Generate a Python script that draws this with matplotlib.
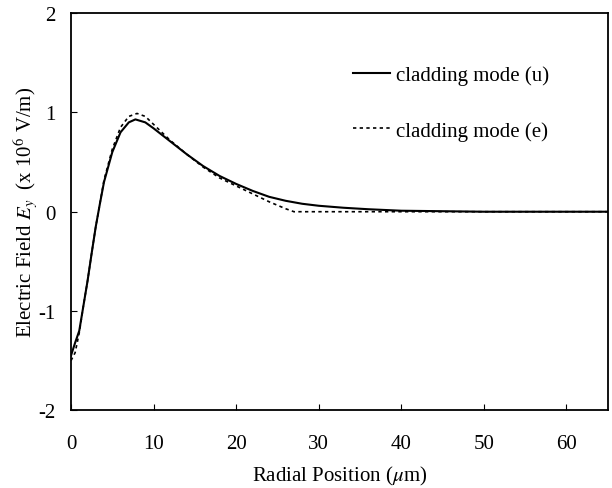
import matplotlib
matplotlib.use('Agg')
import matplotlib.pyplot as plt

# Values
r_u = [0, 0.5, 1, 1.5, 2, 2.5, 3, 3.5, 4, 5, 6, 7, 7.8, 9, 10, 12, 14, 16, 18, 20,
       22, 24, 26, 28, 30, 33, 36, 40, 45, 50, 55, 65]
e_u = [-1.45, -1.32, -1.2, -0.95, -0.7, -0.42, -0.15, 0.08, 0.3, 0.6, 0.8, 0.9, 0.93,
       0.9, 0.84, 0.71, 0.58, 0.46, 0.36, 0.28, 0.21, 0.15, 0.11, 0.08, 0.06, 0.04,
       0.025, 0.01, 0.005, 0.0, 0.0, 0.0]

r_e = [0, 0.5, 1, 1.5, 2, 2.5, 3, 3.5, 4, 5, 6, 7, 8, 9, 10, 12, 14, 16, 18, 20,
       22, 24, 26, 27, 30, 40, 50, 65]
e_e = [-1.5, -1.42, -1.22, -0.95, -0.7, -0.42, -0.15, 0.08, 0.32, 0.63, 0.85, 0.96, 0.99,
       0.96, 0.88, 0.72, 0.58, 0.45, 0.34, 0.26, 0.18, 0.1, 0.03, 0.0, 0.0, 0.0, 0.0, 0.0]

plt.rcParams['font.family'] = 'Liberation Serif'
plt.rcParams['mathtext.fontset'] = 'stix'
plt.rcParams['axes.unicode_minus'] = False

fig = plt.figure(figsize=(6.12, 4.89), dpi=100)
ax = fig.add_axes([0.116, 0.159, 0.877, 0.812])

ax.plot(r_u, e_u, color='black', linewidth=1.5, label='cladding mode (u)')
ax.plot(r_e, e_e, color='black', linewidth=1.2, linestyle=(0, (2, 2)), label='cladding mode (e)')

ax.set_xlim(0, 65)
ax.set_ylim(-2, 2)
ax.set_xticks([0, 10, 20, 30, 40, 50, 60])
ax.set_yticks([-2, -1, 0, 1, 2])
ax.tick_params(direction='in', length=4, width=0.8, labelsize=15)
ax.tick_params(axis='x', pad=17)
ax.tick_params(axis='y', pad=11)
for s in ax.spines.values():
    s.set_linewidth(1.3)

ax.set_xlabel(r'Radial Position ($\mu$m)', fontsize=15, labelpad=8)
ax.set_ylabel(r'Electric Field $E_y$  (x 10$^6$ V/m)', fontsize=15, labelpad=-1)

ax.legend(loc='upper left', bbox_to_anchor=(0.49, 0.915), frameon=False, fontsize=15,
          handlelength=1.8, handletextpad=0.3, labelspacing=1.7)

plt.savefig('out.png', dpi=100)
